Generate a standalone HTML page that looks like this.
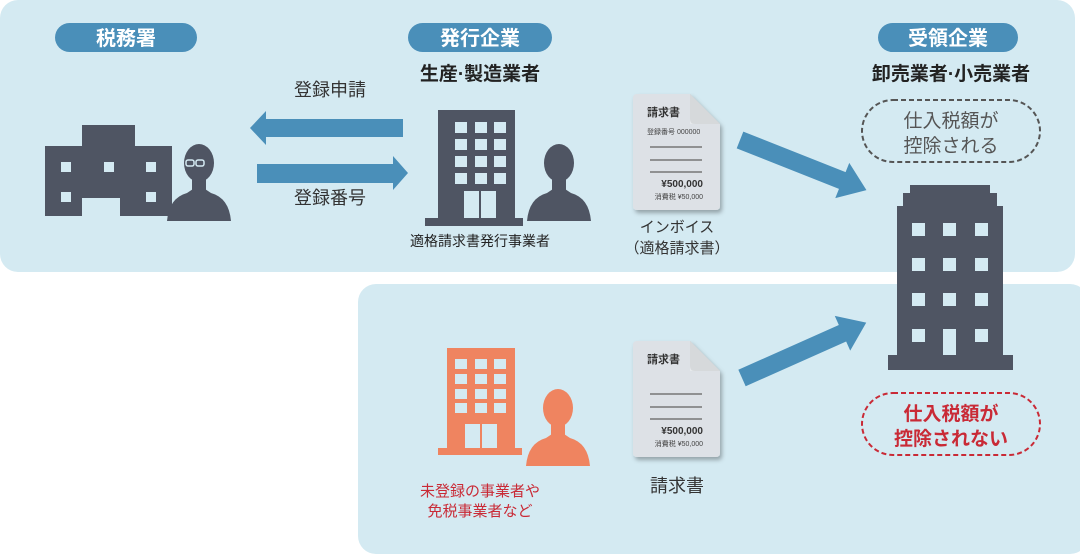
<!DOCTYPE html>
<html><head><meta charset="utf-8"><style>
html,body{margin:0;padding:0;background:#fff;}
svg{display:block;font-family:"Liberation Sans","Noto Sans CJK JP",sans-serif;}
</style></head><body>
<svg width="1080" height="556" viewBox="0 0 1080 556" xmlns="http://www.w3.org/2000/svg">
<defs>
<filter id="sh" x="-20%" y="-20%" width="140%" height="140%"><feDropShadow dx="2" dy="3" stdDeviation="2" flood-color="#000" flood-opacity="0.3"/></filter>
<g id="doc">
 <path d="M0 4 Q0 0 4 0 H57 L87 30 V112 Q87 116 83 116 H4 Q0 116 0 112 Z" fill="#dde1e6" filter="url(#sh)"/>
 <path d="M57 0 L87 30 H62 Q57 30 57 25 Z" fill="#b5b8bc"/>
 <path d="M57 0 L87 30 L57 30 Z" fill="#eceef0" opacity="0.6"/>
 <g stroke="#777" stroke-width="1.6"><line x1="17" y1="53" x2="69" y2="53"/><line x1="17" y1="66" x2="69" y2="66"/><line x1="17" y1="78" x2="69" y2="78"/></g>
 <text x="14" y="22" font-size="11" font-weight="bold" fill="#333">請求書</text>
 <text x="70" y="93" font-size="10" font-weight="bold" fill="#333" text-anchor="end">¥500,000</text>
 <text x="70" y="105" font-size="7" fill="#444" text-anchor="end">消費税 ¥50,000</text>
</g>
<g id="person">
 <path d="M-32 58 Q-30 35 -12 30 L-6 26 H6 L12 30 Q30 35 32 58 Z"/>
 <rect x="-7" y="14" width="14" height="14"/>
 <ellipse cx="0" cy="0" rx="15" ry="19"/>
</g>
<path id="darr" d="M0 -9 H110 V-19 L136 0 L110 19 V9 H0 Z"/>
</defs>
<rect x="0" y="0" width="1075" height="272" rx="18" fill="#d4eaf2"/>
<rect x="358" y="284" width="730" height="270" rx="18" fill="#d4eaf2"/>

<!-- pills -->
<rect x="55" y="23" width="142" height="29" rx="14.5" fill="#4a8fb9"/>
<text x="126" y="45" font-size="20" font-weight="bold" fill="#fff" text-anchor="middle">税務署</text>
<rect x="408" y="23" width="144" height="29" rx="14.5" fill="#4a8fb9"/>
<text x="480" y="45" font-size="20" font-weight="bold" fill="#fff" text-anchor="middle">発行企業</text>
<rect x="878" y="23" width="140" height="29" rx="14.5" fill="#4a8fb9"/>
<text x="948" y="45" font-size="20" font-weight="bold" fill="#fff" text-anchor="middle">受領企業</text>

<text x="480" y="80" font-size="19" font-weight="bold" fill="#222" text-anchor="middle">生産·製造業者</text>
<text x="951" y="80" font-size="19" font-weight="bold" fill="#222" text-anchor="middle">卸売業者·小売業者</text>
<text x="330" y="96" font-size="18" fill="#333" text-anchor="middle">登録申請</text>
<text x="330" y="204" font-size="18" fill="#333" text-anchor="middle">登録番号</text>

<!-- horizontal arrows -->
<path d="M403 119 V137 H266 V145 L250 128 L266 111 V119 Z" fill="#4a8fb9"/>
<path d="M257 164 V183 H393 V190 L408 173 L393 156 V164 Z" fill="#4a8fb9"/>

<!-- tax office -->
<g fill="#4f5563">
 <rect x="82" y="125" width="53" height="22"/>
 <path d="M45 146 H172 V216 H120 V198 H82 V216 H45 Z"/>
</g>
<g fill="#d4eaf2">
 <rect x="61" y="162" width="10" height="10"/><rect x="104" y="162" width="10" height="10"/><rect x="146" y="162" width="10" height="10"/>
 <rect x="61" y="192" width="10" height="10"/><rect x="146" y="192" width="10" height="10"/>
</g>
<g fill="#4f5563" transform="translate(199,163)"><use href="#person"/></g>
<g fill="none" stroke="#d4eaf2" stroke-width="1.5"><rect x="186" y="160" width="8" height="6" rx="2"/><rect x="196" y="160" width="8" height="6" rx="2"/></g>

<!-- issuer building -->
<g fill="#4f5563"><rect x="438" y="110" width="77" height="110"/><rect x="425" y="218" width="98" height="8"/></g>
<g fill="#d4eaf2">
 <rect x="455" y="122" width="12" height="11"/><rect x="475" y="122" width="12" height="11"/><rect x="494" y="122" width="12" height="11"/>
 <rect x="455" y="139" width="12" height="11"/><rect x="475" y="139" width="12" height="11"/><rect x="494" y="139" width="12" height="11"/>
 <rect x="455" y="156" width="12" height="11"/><rect x="475" y="156" width="12" height="11"/><rect x="494" y="156" width="12" height="11"/>
 <rect x="455" y="173" width="12" height="11"/><rect x="475" y="173" width="12" height="11"/><rect x="494" y="173" width="12" height="11"/>
 <rect x="464" y="191" width="32" height="27"/>
</g>
<line x1="480" y1="191" x2="480" y2="218" stroke="#4f5563" stroke-width="2"/>
<g fill="#4f5563" transform="translate(559,163)"><use href="#person"/></g>
<text x="480" y="246" font-size="14" fill="#222" text-anchor="middle">適格請求書発行事業者</text>

<!-- invoice doc -->
<g transform="translate(633,94)"><use href="#doc"/>
<text x="14" y="40" font-size="7" fill="#444">登録番号 000000</text></g>
<text x="677" y="232" font-size="15" fill="#333" text-anchor="middle">インボイス</text>
<text x="677" y="253" font-size="15" fill="#333" text-anchor="middle">（適格請求書）</text>

<!-- diagonal arrows -->
<g fill="#4a8fb9">
 <use href="#darr" transform="translate(740,140) rotate(21.6)"/>
 <use href="#darr" transform="translate(742,378) rotate(-24)"/>
</g>

<!-- dashed bubbles -->
<rect x="862" y="100" width="178" height="62" rx="31" fill="none" stroke="#555" stroke-width="2" stroke-dasharray="5,3"/>
<text x="951" y="127" font-size="19" fill="#555" text-anchor="middle">仕入税額が</text>
<text x="951" y="152" font-size="19" fill="#555" text-anchor="middle">控除される</text>
<rect x="862" y="393" width="178" height="62" rx="31" fill="none" stroke="#c92a36" stroke-width="2" stroke-dasharray="5,3"/>
<text x="951" y="420" font-size="19" font-weight="bold" fill="#c92a36" text-anchor="middle">仕入税額が</text>
<text x="951" y="445" font-size="19" font-weight="bold" fill="#c92a36" text-anchor="middle">控除されない</text>

<!-- right building -->
<g fill="#4f5563">
 <rect x="910" y="185" width="80" height="10"/><rect x="903" y="193" width="94" height="15"/>
 <rect x="897" y="206" width="106" height="150"/><rect x="888" y="355" width="125" height="15"/>
</g>
<g fill="#d4eaf2">
 <rect x="912" y="223" width="13" height="13"/><rect x="943" y="223" width="13" height="13"/><rect x="975" y="223" width="13" height="13"/>
 <rect x="912" y="258" width="13" height="13"/><rect x="943" y="258" width="13" height="13"/><rect x="975" y="258" width="13" height="13"/>
 <rect x="912" y="293" width="13" height="13"/><rect x="943" y="293" width="13" height="13"/><rect x="975" y="293" width="13" height="13"/>
 <rect x="912" y="329" width="13" height="13"/><rect x="943" y="329" width="13" height="26"/><rect x="975" y="329" width="13" height="13"/>
</g>

<!-- orange building -->
<g fill="#ef8460"><rect x="447" y="348" width="68" height="102"/><rect x="438" y="448" width="84" height="7"/></g>
<g fill="#d4eaf2">
 <rect x="455" y="359" width="12" height="10"/><rect x="475" y="359" width="12" height="10"/><rect x="494" y="359" width="12" height="10"/>
 <rect x="455" y="374" width="12" height="10"/><rect x="475" y="374" width="12" height="10"/><rect x="494" y="374" width="12" height="10"/>
 <rect x="455" y="389" width="12" height="10"/><rect x="475" y="389" width="12" height="10"/><rect x="494" y="389" width="12" height="10"/>
 <rect x="455" y="403" width="12" height="10"/><rect x="475" y="403" width="12" height="10"/><rect x="494" y="403" width="12" height="10"/>
 <rect x="465" y="424" width="32" height="24"/>
</g>
<line x1="481" y1="424" x2="481" y2="448" stroke="#ef8460" stroke-width="2"/>
<g fill="#ef8460" transform="translate(558,408)"><use href="#person"/></g>
<text x="480" y="496" font-size="15" fill="#c92a36" text-anchor="middle">未登録の事業者や</text>
<text x="480" y="516" font-size="15" fill="#c92a36" text-anchor="middle">免税事業者など</text>

<!-- doc 2 -->
<g transform="translate(633,341)"><use href="#doc"/></g>
<text x="677" y="492" font-size="18" fill="#333" text-anchor="middle">請求書</text>
</svg>
</body></html>
